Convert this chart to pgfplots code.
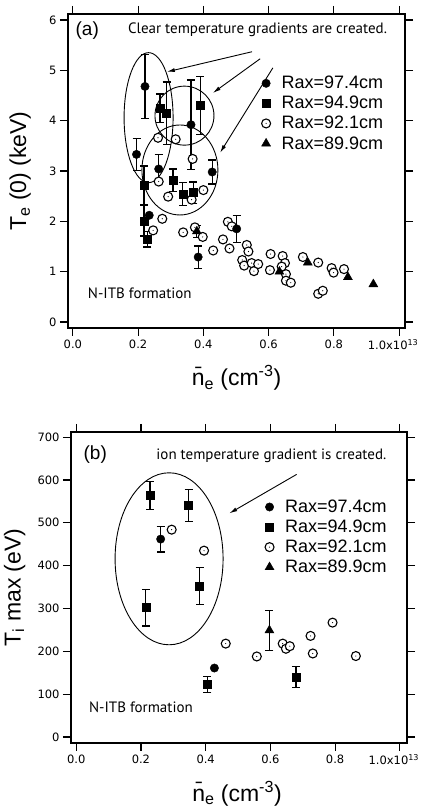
\documentclass[border=0pt]{standalone}
\usepackage{fontspec}
\setmainfont{Liberation Sans}
\newfontfamily\tickfont{DejaVu Sans}
\newfontfamily\notefont{PT Sans}
\usepackage{pgfplots}
\pgfplotsset{compat=1.18}
\usetikzlibrary{arrows.meta}

% open circle with a dot in the middle
\pgfdeclareplotmark{odot}{%
  \pgfpathcircle{\pgfpointorigin}{\pgfplotmarksize}%
  \pgfsetfillcolor{white}\pgfusepathqfillstroke
  \pgfpathcircle{\pgfpointorigin}{0.6pt}%
  \pgfsetfillcolor{black}\pgfusepathqfill}

\tikzset{note/.style={font=\notefont\fontsize{15}{17}\selectfont}}

\pgfplotsset{
  panel/.style={
    scale only axis, anchor=south west,
    xmin=-0.015, xmax=1.018,
    tick align=outside, tick pos=both,
    xticklabel pos=lower, yticklabel pos=left,
    major tick length=8pt,
    axis line style={line width=1.3pt},
    every tick/.style={black, line width=1.2pt},
    tick label style={font=\tickfont\fontsize{11.5}{13}\selectfont},
    /pgf/number format/assume math mode=true,
    xtick={0,0.2,0.4,0.6,0.8,1.0},
    xticklabels={0.0,0.2,0.4,0.6,0.8,\hspace*{-12pt}1.0x10\textsuperscript{13}},
    label style={font=\fontsize{23}{25}\selectfont},
    legend style={draw=none, fill=none, anchor=north west,
      font=\fontsize{18}{20}\selectfont, row sep=2pt,
      /tikz/every odd column/.append style={column sep=9pt}},
    legend cell align=left,
    clip=false,
  },
  fc/.style={only marks, mark=*, mark size=4.2pt, black},
  fs/.style={only marks, mark=square*, mark size=4pt, black},
  oc/.style={only marks, mark=odot, mark size=4.5pt, black, mark options={line width=1.1pt}},
  ft/.style={only marks, mark=triangle*, mark size=5.2pt, black},
  eb/.style={forget plot, only marks, mark=none,
    error bars/.cd, y dir=both, y explicit,
    error bar style={line width=1.2pt, black},
    error mark options={black, line width=1.2pt, mark size=4pt, rotate=90}},
}

\begin{document}
\begin{tikzpicture}
\useasboundingbox (0,0) rectangle (422pt,810pt);

% ---------------- panel (a)
\begin{axis}[panel, at={(68pt,482pt)}, width=337pt, height=314pt,
  ymin=-0.12, ymax=6.12, ytick={0,1,2,3,4,5,6},
  xlabel={\={n}\textsubscript{e} (cm\textsuperscript{-3})},
  ylabel={T\textsubscript{e} (0) (keV)},
  xlabel style={at={(axis description cs:0.5,-0.16)}, anchor=center},
  ylabel style={at={(axis description cs:-0.142,0.5)}, anchor=center},
  legend style={at={(0.565,0.815)}},
]
\addplot[oc, forget plot] coordinates {
(0.261,3.66) (0.315,3.63) (0.367,3.24) (0.263,2.79) (0.292,2.49) (0.400,2.62)
(0.364,2.43) (0.274,2.05) (0.246,1.82) (0.338,1.78) (0.374,1.88) (0.398,1.69)
(0.430,1.42) (0.460,1.64) (0.480,1.46) (0.475,1.99) (0.487,1.90) (0.533,1.53)
(0.538,1.40) (0.519,1.23) (0.525,1.12) (0.548,1.17) (0.555,1.01) (0.568,1.15)
(0.604,1.03) (0.606,1.35) (0.643,1.31) (0.650,1.17) (0.653,0.95) (0.653,0.82)
(0.668,0.78) (0.640,1.10) (0.705,1.29) (0.752,1.18) (0.752,0.56) (0.766,0.62)
(0.793,1.07) (0.799,0.98) (0.831,1.05)};
\addplot[eb] table[x=x, y=y, y error=e] {
x y e
0.221 4.68 0.64
0.195 3.33 0.32
0.263 3.04 0.28
0.362 3.92 0.89
0.427 2.98 0.24
0.384 1.29 0.22
0.502 1.85 0.27
0.267 4.25 0.28
0.287 4.15 0.62
0.390 4.30 0.58
0.218 2.72 0.38
0.307 2.82 0.22
0.337 2.54 0.23
0.369 2.57 0.21
0.218 2.01 0.30
0.228 1.64 0.15
0.380 1.80 0.12
};
\addplot[fc, forget plot] coordinates {
(0.221,4.68) (0.195,3.33) (0.263,3.04) (0.362,3.92) (0.427,2.98)
(0.384,1.29) (0.502,1.85) (0.234,2.12)};
\addplot[fs, forget plot] coordinates {
(0.267,4.25) (0.287,4.15) (0.390,4.30) (0.218,2.72) (0.307,2.82)
(0.337,2.54) (0.369,2.57) (0.218,2.01) (0.228,1.64)};
\addplot[ft, forget plot] coordinates {
(0.380,1.80) (0.633,1.00) (0.720,1.18) (0.843,0.89) (0.921,0.75)};
\addlegendimage{fc}\addlegendentry{Rax=97.4cm}
\addlegendimage{fs}\addlegendentry{Rax=94.9cm}
\addlegendimage{oc}\addlegendentry{Rax=92.1cm}
\addlegendimage{ft}\addlegendentry{Rax=89.9cm}

\draw[line width=0.9pt] (axis cs:0.232,4.06) ellipse [x radius=24.5pt, y radius=65pt];
\draw[line width=0.9pt] (axis cs:0.342,4.10) ellipse [x radius=29.5pt, y radius=29.5pt];
\draw[line width=0.9pt] (axis cs:0.328,3.02) ellipse [x radius=38pt, y radius=45pt];
\draw[line width=0.9pt, -{Latex[length=8pt,width=4pt]}] (axis cs:0.549,5.37) -- (axis cs:0.288,4.97);
\draw[line width=0.9pt, -{Latex[length=8pt,width=4pt]}] (axis cs:0.574,5.23) -- (axis cs:0.429,4.55);
\draw[line width=0.9pt, -{Latex[length=8pt,width=4pt]}] (axis cs:0.613,5.05) -- (axis cs:0.451,3.36);
\node[font=\fontsize{19}{20}\selectfont] at (axis cs:0.044,5.8) {(a)};
\node[note] at (axis cs:0.566,5.8) {Clear temperature gradients are created.};
\node[note] at (axis cs:0.205,0.58) {N-ITB formation};
\end{axis}

% ---------------- panel (b)
\begin{axis}[panel, at={(71pt,67pt)}, width=336pt, height=311pt,
  xmin=-0.016, xmax=1.022,
  ymin=-14, ymax=712, ytick={0,100,200,300,400,500,600,700},
  xlabel={\={n}\textsubscript{e} (cm\textsuperscript{-3})},
  ylabel={T\textsubscript{i} max (eV)},
  xlabel style={at={(axis description cs:0.494,-0.162)}, anchor=center},
  ylabel style={at={(axis description cs:-0.168,0.5)}, anchor=center},
  legend style={at={(0.568,0.795)}},
]
\addplot[oc, forget plot] coordinates {
(0.295,484) (0.395,435) (0.462,218) (0.558,188) (0.638,218) (0.648,206)
(0.660,212) (0.724,236) (0.731,195) (0.792,267) (0.864,189)};
\addplot[eb] table[x=x, y=y, y error=e] {
x y e
0.261 462 30
0.228 564 32
0.347 540 37
0.381 352 43
0.215 302 43
0.405 123 19
0.679 140 24
0.597 249 47
};
\addplot[fc, forget plot] coordinates {(0.261,462) (0.427,161)};
\addplot[fs, forget plot] coordinates {
(0.228,564) (0.347,540) (0.381,352) (0.215,302) (0.405,123) (0.679,140)};
\addplot[ft, forget plot] coordinates {(0.597,249)};
\addlegendimage{fc}\addlegendentry{Rax=97.4cm}
\addlegendimage{fs}\addlegendentry{Rax=94.9cm}
\addlegendimage{oc}\addlegendentry{Rax=92.1cm}
\addlegendimage{ft}\addlegendentry{Rax=89.9cm}

\draw[line width=0.9pt] (axis cs:0.287,416) ellipse [x radius=54pt, y radius=86pt];
\draw[line width=0.9pt, -{Latex[length=8pt,width=4pt]}] (axis cs:0.681,613) -- (axis cs:0.473,522);
\node[font=\fontsize{19}{20}\selectfont] at (axis cs:0.059,660) {(b)};
\node[note] at (axis cs:0.603,656) {ion temperature gradient is created.};
\node[note] at (axis cs:0.200,70) {N-ITB formation};
\end{axis}
\end{tikzpicture}
\end{document}
